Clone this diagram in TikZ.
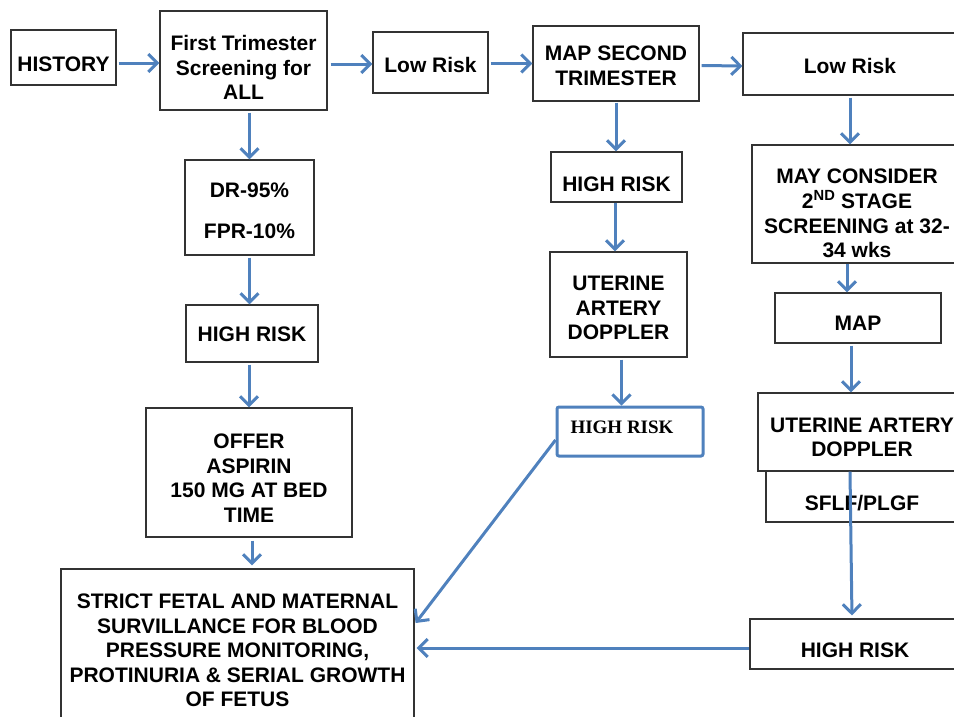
\documentclass[tikz,border=0pt]{standalone}
\usepackage{fontspec}
\setmainfont{Liberation Sans}
\newfontfamily\serifb{Liberation Serif}
\usetikzlibrary{arrows.meta,calc}
\definecolor{flowblue}{HTML}{4F81BD}
\newcommand{\bx}[2]{\raisebox{-#1pt}[\height][\depth]{\begin{tabular}{@{}c@{}}#2\end{tabular}}}
\begin{document}
\begin{tikzpicture}[x=1pt,y=-1pt,
  box/.style={draw=black!80, line width=1.2pt, fill=white, inner sep=0pt,
    font=\bfseries\fontsize{21}{24.5}\selectfont},
  bluebox/.style={draw=flowblue, line width=3pt, rounded corners=2pt, fill=white, inner sep=0pt,
    font=\serifb\bfseries\fontsize{19}{22}\selectfont},
  arr/.style={draw=flowblue, line width=3pt, -{Straight Barb[length=9pt,width=18pt]}}]
\useasboundingbox (0,0) rectangle (954,716);
\clip (0,0) rectangle (954,716);
% left column
\node[box, minimum width=105pt, minimum height=55pt] (hist) at (63.5,57.5) {\bx{8.6}{HISTORY}};
\node[box, minimum width=167pt, minimum height=99pt] (first) at (243.5,60.5) {\bx{9.6}{First Trimester\\Screening for\\ALL}};
\node[box, minimum width=115pt, minimum height=61pt] (low1) at (430.5,62.5) {\bx{5}{Low Risk}};
\node[box, minimum width=129pt, minimum height=95pt] (dr) at (249.5,207.5) {\bx{5.6}{DR-95\%\\[16.5pt]FPR-10\%}};
\node[box, minimum width=132pt, minimum height=57pt] (hr1) at (252,333.5) {\bx{3}{HIGH RISK}};
\node[box, minimum width=206pt, minimum height=129pt] (offer) at (249,472.5) {\bx{8}{OFFER\\ASPIRIN\\150 MG AT BED\\TIME}};
\node[box, minimum width=353pt, minimum height=162pt] (strict) at (237.5,650) {\bx{2.6}{STRICT FETAL AND MATERNAL\\SURVILLANCE FOR BLOOD\\PRESSURE MONITORING,\\PROTINURIA \& SERIAL GROWTH\\OF FETUS}};
% middle column
\node[box, minimum width=166pt, minimum height=75pt] (map2) at (616,63.5) {\bx{4.6}{MAP SECOND\\TRIMESTER}};
\node[box, minimum width=131pt, minimum height=50pt] (hr2) at (616.5,177) {\bx{9.6}{HIGH RISK}};
\node[box, minimum width=137pt, minimum height=105pt] (ut1) at (618.5,304.5) {\bx{6}{UTERINE\\ARTERY\\DOPPLER}};
\node[bluebox, minimum width=146pt, minimum height=49pt] (hrb) at (630,431.5) {\raisebox{4.5pt}[\height][\depth]{\hspace*{-16pt}HIGH RISK}};
% right column
\node[box, minimum width=214pt, minimum height=62pt] (low2) at (850,64) {\bx{4.6}{Low Risk}};
\node[box, minimum width=210pt, minimum height=118pt] (may) at (857,204) {\bx{11.6}{MAY CONSIDER\\2\textsuperscript{ND} STAGE\\SCREENING at 32-\\34 wks}};
\node[box, minimum width=166pt, minimum height=50pt] (map3) at (858,318) {\bx{7.6}{MAP}};
\node[box, minimum width=208pt, minimum height=78pt] (ut3) at (862,432) {\bx{7.6}{UTERINE ARTERY\\DOPPLER}};
\node[box, minimum width=192pt, minimum height=51pt] (sflf) at (862,496.5) {\bx{9}{SFLF/PLGF}};
\node[box, minimum width=210pt, minimum height=50pt] (hr3) at (855,644) {\bx{8.6}{HIGH RISK}};
% connectors
\draw[arr] ([xshift=2pt,yshift=-5.5pt]hist.east) -- ([yshift=-2.5pt]first.west);
\draw[arr] ([xshift=3pt,yshift=-3.5pt]first.east) -- ([yshift=-1.5pt]low1.west);
\draw[arr] ([xshift=2pt,yshift=-1pt]low1.east) -- (map2.west);
\draw[arr] ([xshift=2pt,yshift=-2pt]map2.east) -- ([yshift=-2pt]low2.west);
\draw[arr, shorten <=2pt] (dr.north |- first.south) -- (dr.north);
\draw[arr, shorten <=2pt] (dr.south) -- (dr.south |- hr1.north);
\draw[arr, shorten <=2pt] (offer.north |- hr1.south) -- (offer.north);
\draw[arr, shorten <=3pt, shorten >=3pt] ($(offer.south)+(3,0)$) -- ($(offer.south |- strict.north)+(3,0)$);
\draw[arr, shorten <=1pt] (map2.south) -- (map2.south |- hr2.north);
\draw[arr] ($(hr2.south)+(-1.5,0)$) -- ($(hr2.south |- ut1.north)+(-1.5,0)$);
\draw[arr, shorten <=2pt] ($(ut1.south)+(3,0)$) -- ($(ut1.south |- hrb.north)+(3,0)$);
\draw[arr] ([yshift=-8.5pt]hrb.west) -- ([xshift=1pt,yshift=27pt]strict.east);
\draw[arr, shorten <=2pt] (low2.south) -- (low2.south |- may.north);
\draw[arr] ($(may.south)+(-10,0)$) -- ($(may.south |- map3.north)+(-10,0)$);
\draw[arr, shorten <=2pt] ($(map3.south)+(-7,0)$) -- ($(map3.south |- ut3.north)+(-7,0)$);
\draw[arr, shorten >=3pt] ($(ut3.south)+(-12,0)$) -- ($(hr3.north)+(-3,0)$);
\draw[arr] ([yshift=-4pt]hr3.west) -- ([xshift=2pt,yshift=2pt]strict.east);
\end{tikzpicture}
\end{document}
